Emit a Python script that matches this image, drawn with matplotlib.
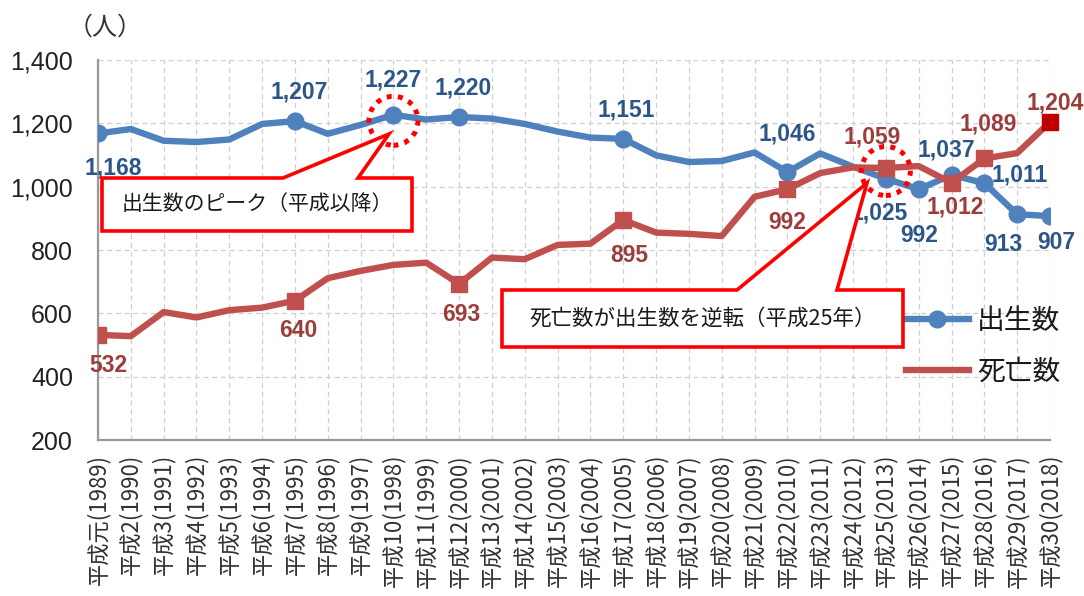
import matplotlib
matplotlib.use("Agg")
import matplotlib.pyplot as plt
import matplotlib.patches as mpatches
from matplotlib.lines import Line2D
from matplotlib.transforms import Affine2D, IdentityTransform
from matplotlib.ticker import FuncFormatter

plt.rcParams['font.family'] = ['Noto Sans CJK JP', 'DejaVu Sans']

# ---------------- data ----------------
years = ["平成元(1989)", "平成2(1990)", "平成3(1991)", "平成4(1992)", "平成5(1993)",
         "平成6(1994)", "平成7(1995)", "平成8(1996)", "平成9(1997)", "平成10(1998)",
         "平成11(1999)", "平成12(2000)", "平成13(2001)", "平成14(2002)", "平成15(2003)",
         "平成16(2004)", "平成17(2005)", "平成18(2006)", "平成19(2007)", "平成20(2008)",
         "平成21(2009)", "平成22(2010)", "平成23(2011)", "平成24(2012)", "平成25(2013)",
         "平成26(2014)", "平成27(2015)", "平成28(2016)", "平成29(2017)", "平成30(2018)"]
births = [1168, 1182, 1145, 1141, 1149, 1198, 1207, 1167, 1195, 1227,
          1212, 1220, 1215, 1198, 1174, 1155, 1151, 1099, 1078, 1081,
          1108, 1046, 1105, 1063, 1025, 992, 1037, 1011, 913, 907]
deaths = [532, 528, 604, 587, 610, 618, 640, 711, 734, 753,
          760, 693, 776, 771, 816, 820, 895, 855, 851, 844,
          968, 992, 1043, 1061, 1059, 1065, 1012, 1089, 1106, 1204]
birth_label_idx = [0, 6, 9, 11, 16, 21, 24, 25, 26, 27, 28, 29]
death_label_idx = [0, 6, 11, 16, 21, 24, 26, 27, 29]
series_names = ["出生数", "死亡数"]
y_ticks = [200, 400, 600, 800, 1000, 1200, 1400]
note_peak = "出生数のピーク（平成以降）"
note_cross = "死亡数が出生数を逆転（平成25年）"
unit_label = "（人）"

# ---------------- styling / layout ----------------
W, H = 1084, 596
BLUE, RED = '#4F81BD', '#C0504D'
BLUE_TXT, RED_TXT = '#2C5689', '#9C3D3B'
NUM_FONT = ['Liberation Sans', 'DejaVu Sans']

# label offsets in pixels (dx, dy)
birth_off = {0: (15, -35), 6: (4, 29), 9: (0, 35), 11: (4, 29), 16: (3, 29),
             21: (0, 38), 24: (-7, -34), 25: (0, -46), 26: (-5, 25),
             27: (35, 8), 28: (-14, -30), 29: (6, -26)}
death_off = {0: (10, -31), 6: (3, -30), 11: (2, -31), 16: (6, -36), 21: (0, -33),
             24: (-14, 31), 26: (4, -24), 27: (4, 34), 29: (5, 19)}

fig = plt.figure(figsize=(W / 100, H / 100), dpi=100)
ax_l, ax_r, ax_t, ax_b = 98, 1050, 60, 440
ax = fig.add_axes([ax_l / W, 1 - ax_b / H, (ax_r - ax_l) / W, (ax_b - ax_t) / H])

x = list(range(len(years)))
ax.set_xlim(0, len(years) - 1)
ax.set_ylim(y_ticks[0], y_ticks[-1])

ax.grid(True, linestyle=(0, (4, 3)), color='#cfcfcf', linewidth=0.9, zorder=0)
ax.set_axisbelow(True)
for s in ['top', 'right']:
    ax.spines[s].set_visible(False)
for s in ['left', 'bottom']:
    ax.spines[s].set_color('#9a9a9a')
    ax.spines[s].set_linewidth(1.6)

ax.set_yticks(y_ticks)
ax.yaxis.set_major_formatter(FuncFormatter(lambda v, p: f"{int(v):,}"))
for t in ax.get_yticklabels():
    t.set_family(NUM_FONT)
    t.set_fontsize(18)
    t.set_color('#222222')
ax.tick_params(axis='y', length=0, pad=18)

ax.set_xticks(x)
ax.set_xticklabels(years, rotation=90, fontsize=16, color='#333333', va='top')
ax.tick_params(axis='x', length=0, pad=10)

# lines
ax.plot(x, births, color=BLUE, lw=4.6, marker='o', ms=12, markevery=birth_label_idx,
        solid_joinstyle='round', solid_capstyle='round', zorder=3)
ax.plot(x, deaths, color=RED, lw=4.6, marker='s', ms=11.5,
        markevery=death_label_idx[:-1], solid_joinstyle='round',
        solid_capstyle='round', zorder=4)
ax.plot([x[-1]], [deaths[-1]], marker='s', ms=11.5, color='#C00000', ls='none',
        zorder=5, clip_on=False)

# data labels
for i in birth_label_idx:
    dx, dy = birth_off[i]
    ax.annotate(f"{births[i]:,}", (x[i], births[i]), xytext=(dx, dy),
                textcoords='offset pixels', ha='center', va='center',
                fontsize=16.5, fontweight='bold', color=BLUE_TXT,
                family=NUM_FONT, zorder=6, annotation_clip=False)
for i in death_label_idx:
    dx, dy = death_off[i]
    ax.annotate(f"{deaths[i]:,}", (x[i], deaths[i]), xytext=(dx, dy),
                textcoords='offset pixels', ha='center', va='center',
                fontsize=16.5, fontweight='bold', color=RED_TXT,
                family=NUM_FONT, zorder=6, annotation_clip=False)

# dotted highlight circles (sized in pixels, converted through axis scales)
px_x = (ax_r - ax_l) / (len(years) - 1)
px_y = (ax_b - ax_t) / (y_ticks[-1] - y_ticks[0])
def ring(i, val, dy_px=0, r=24.5):
    e = mpatches.Ellipse((x[i], val + dy_px / px_y), 2 * r / px_x, 2 * r / px_y,
                         fill=False, edgecolor='#FF0000', lw=3.6,
                         linestyle=(0, (1, 1.25)), zorder=7, clip_on=False)
    e.set_capstyle('butt')
    ax.add_patch(e)
ring(9, births[9], dy_px=-6)
ring(24, deaths[24], dy_px=-3)

# callouts (figure pixel coords, origin top-left)
topleft = Affine2D().scale(1, -1).translate(0, H) + IdentityTransform()
def callout(box, base, tip, text, fs):
    l, t, r, b = box
    pts = [(l, t), (base[0], t), tip, (base[1], t), (r, t), (r, b), (l, b)]
    poly = mpatches.Polygon(pts, closed=True, facecolor='white', edgecolor='#FF0000',
                            lw=2.6, transform=topleft, zorder=10, joinstyle='miter')
    fig.add_artist(poly)
    fig.text((l + r) / 2 / W, 1 - (t + b) / 2 / H, text, ha='center', va='center',
             fontsize=fs, color='#1a1a1a', zorder=11)

callout((102, 178, 412, 231), (283, 358), (389, 134), note_peak, 15)
callout((502, 290, 903, 347), (737, 837), (867, 183), note_cross, 15.5)

# unit label
fig.text(105 / W, 1 - 28 / H, unit_label, ha='center', va='center', fontsize=18,
         color='#333333')

# legend
h1 = Line2D([], [], color=BLUE, lw=4.6, marker='o', ms=12)
h2 = Line2D([], [], color=RED, lw=4.6)
leg = ax.legend([h1, h2], series_names, loc='upper left',
                bbox_to_anchor=(906, 306), bbox_transform=topleft,
                frameon=False, fontsize=20, handlelength=2.25, handletextpad=0.3,
                labelspacing=0.75, borderpad=0, borderaxespad=0)
for t in leg.get_texts():
    t.set_color('#1a1a1a')

fig.savefig('out.png', dpi=100)
